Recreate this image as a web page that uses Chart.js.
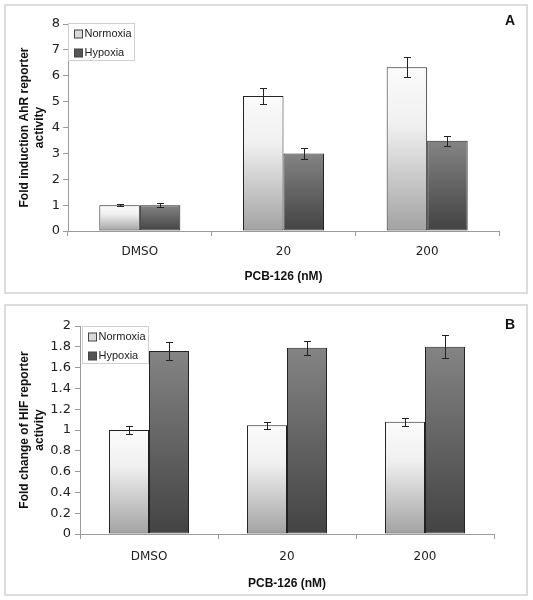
<!DOCTYPE html>
<html>
<head>
<meta charset="utf-8">
<script src="https://cdn.jsdelivr.net/npm/chart.js@4/dist/chart.umd.min.js"></script>
<style>
  body { margin: 0; background: #fff; width: 533px; height: 600px; position: relative; }
  .panel { position: absolute; left: 4px; width: 520px; border: 2px solid #dcdcdc; background: #fff; }
  #panelA { top: 4px; height: 286px; }
  #panelB { top: 304px; height: 288px; }
  .tag { position: absolute; left: 505px; font: bold 14px 'Liberation Sans', Arial, sans-serif; line-height: 16px; color: #111; }
</style>
</head>
<body>
<div class="panel" id="panelA"><canvas id="ahrChart" width="520" height="286"></canvas></div>
<div class="panel" id="panelB"><canvas id="hifChart" width="520" height="288"></canvas></div>
<div class="tag" style="top:12px">A</div>
<div class="tag" style="top:316px">B</div>
<script>
const categories = ['DMSO', '20', '200'];

// panel A: AhR reporter
const ahrNormoxia = [1.0, 5.22, 6.33];
const ahrNormoxiaErr = [0.03, 0.32, 0.38];
const ahrHypoxia = [1.0, 3.0, 3.49];
const ahrHypoxiaErr = [0.08, 0.22, 0.19];

// panel B: HIF reporter
const hifNormoxia = [1.0, 1.045, 1.08];
const hifNormoxiaErr = [0.04, 0.035, 0.04];
const hifHypoxia = [1.76, 1.79, 1.80];
const hifHypoxiaErr = [0.09, 0.07, 0.11];

const TICK_FONT = "'DejaVu Sans', sans-serif";
const TITLE_FONT = "'Liberation Sans', Arial, sans-serif";

const normoxiaStops = [[0, '#fbfbfb'], [0.35, '#f0f0f0'], [1, '#a2a2a2']];
const hypoxiaStops = [[0, '#848484'], [1, '#434343']];

function barGradient(stops, fallback) {
    return (c) => {
        const chart = c.chart;
        if (!chart.chartArea || c.raw === undefined) return fallback;
        const y = chart.scales.y;
        const top = y.getPixelForValue(c.raw);
        const base = y.getPixelForValue(0);
        const g = chart.ctx.createLinearGradient(0, top, 0, base);
        stops.forEach(s => g.addColorStop(s[0], s[1]));
        return g;
    };
}

const errorBars = {
    id: 'errorBars',
    afterDatasetsDraw(chart) {
        const ctx = chart.ctx;
        const y = chart.scales.y;
        ctx.save();
        ctx.strokeStyle = '#222';
        ctx.lineWidth = 1;
        chart.data.datasets.forEach((ds, i) => {
            const meta = chart.getDatasetMeta(i);
            meta.data.forEach((bar, j) => {
                const v = ds.data[j], e = ds.errors[j];
                const x = Math.round(bar.x) + 0.5;
                const hi = Math.round(y.getPixelForValue(v + e)) + 0.5;
                const lo = Math.round(y.getPixelForValue(v - e)) + 0.5;
                ctx.beginPath();
                ctx.moveTo(x, hi); ctx.lineTo(x, lo);
                ctx.moveTo(x - 3.5, hi); ctx.lineTo(x + 3.5, hi);
                ctx.moveTo(x - 3.5, lo); ctx.lineTo(x + 3.5, lo);
                ctx.stroke();
            });
        });
        ctx.restore();
    }
};

const boxLegend = {
    id: 'boxLegend',
    afterDraw(chart, args, opts) {
        const ctx = chart.ctx;
        const area = chart.chartArea;
        const left = Math.round(area.left + opts.dx) + 0.5;
        const top = Math.round(area.top + opts.dy) + 0.5;
        ctx.save();
        ctx.fillStyle = '#fff';
        ctx.strokeStyle = '#d0d0d0';
        ctx.lineWidth = 1;
        ctx.fillRect(left, top, 66, 37);
        ctx.strokeRect(left, top, 66, 37);
        const swatch = ['#dadada', '#555555'];
        ctx.font = "11px 'Liberation Sans', Arial, sans-serif";
        ctx.textBaseline = 'middle';
        chart.data.datasets.forEach((ds, i) => {
            const cy = top + 10.5 + i * 18.5;
            ctx.fillStyle = swatch[i];
            ctx.fillRect(left + 6, Math.round(cy - 4), 8, 8);
            ctx.strokeStyle = '#444';
            ctx.strokeRect(left + 6, Math.round(cy - 4), 8, 8);
            ctx.fillStyle = '#222';
            ctx.fillText(ds.label, left + 16, cy);
        });
        ctx.restore();
    }
};

function makeChart(id, cfg) {
    return new Chart(document.getElementById(id), {
        type: 'bar',
        data: {
            labels: categories,
            datasets: [
                {
                    label: 'Normoxia', data: cfg.normoxia, errors: cfg.normoxiaErr,
                    backgroundColor: barGradient(normoxiaStops, '#ddd'),
                    borderColor: '#222', borderWidth: 1, borderSkipped: false,
                    barPercentage: 1, categoryPercentage: cfg.catPct
                },
                {
                    label: 'Hypoxia', data: cfg.hypoxia, errors: cfg.hypoxiaErr,
                    backgroundColor: barGradient(hypoxiaStops, '#666'),
                    borderColor: '#222', borderWidth: 1, borderSkipped: false,
                    barPercentage: 1, categoryPercentage: cfg.catPct
                }
            ]
        },
        options: {
            responsive: false,
            animation: false,
            devicePixelRatio: 1,
            layout: { padding: cfg.padding },
            plugins: {
                legend: { display: false },
                tooltip: { enabled: false },
                boxLegend: cfg.legend
            },
            scales: {
                x: {
                    afterFit: s => { s.height = cfg.xHeight; },
                    grid: { offset: true, drawOnChartArea: false, tickLength: 5, color: '#9a9a9a' },
                    border: { color: '#9a9a9a' },
                    ticks: { font: { family: TICK_FONT, size: 12 }, color: '#222', padding: cfg.xTickPad },
                    title: {
                        display: true, text: 'PCB-126 (nM)', color: '#111',
                        font: { family: TITLE_FONT, size: 12, weight: 'bold', lineHeight: '15px' },
                        padding: { top: 0, bottom: cfg.xTitlePad }
                    }
                },
                y: {
                    min: 0, max: cfg.max,
                    afterFit: s => { s.width = cfg.yWidth; },
                    grid: { drawOnChartArea: false, tickLength: 5, color: '#9a9a9a' },
                    border: { color: '#9a9a9a' },
                    ticks: {
                        stepSize: cfg.step, padding: cfg.yTickPad, color: '#222',
                        font: { family: TICK_FONT, size: 13 },
                        callback: v => String(+v.toFixed(1))
                    },
                    title: {
                        display: true, text: cfg.yTitle, color: '#111',
                        font: { family: TITLE_FONT, size: 12, weight: 'bold', lineHeight: '15px' },
                        padding: { top: 11.5, bottom: 0 }
                    }
                }
            }
        },
        plugins: [errorBars, boxLegend]
    });
}

makeChart('ahrChart', {
    normoxia: ahrNormoxia, normoxiaErr: ahrNormoxiaErr,
    hypoxia: ahrHypoxia, hypoxiaErr: ahrHypoxiaErr,
    max: 8, step: 1, catPct: 0.564,
    yTitle: ['Fold induction AhR reporter', 'activity'],
    padding: { left: 0, right: 27, top: 18, bottom: 0 },
    yWidth: 62, xHeight: 61, xTickPad: 8.5, xTitlePad: 7.8, yTickPad: 3,
    legend: { dx: 0, dy: -1 }
});

makeChart('hifChart', {
    normoxia: hifNormoxia, normoxiaErr: hifNormoxiaErr,
    hypoxia: hifHypoxia, hypoxiaErr: hifHypoxiaErr,
    max: 2, step: 0.2, catPct: 0.58,
    yTitle: ['Fold change of HIF reporter', 'activity'],
    padding: { left: 0, right: 32, top: 20, bottom: 0 },
    yWidth: 74, xHeight: 60, xTickPad: 10.8, xTitlePad: 3.2, yTickPad: 4,
    legend: { dx: 2, dy: 0 }
});
</script>
</body>
</html>
